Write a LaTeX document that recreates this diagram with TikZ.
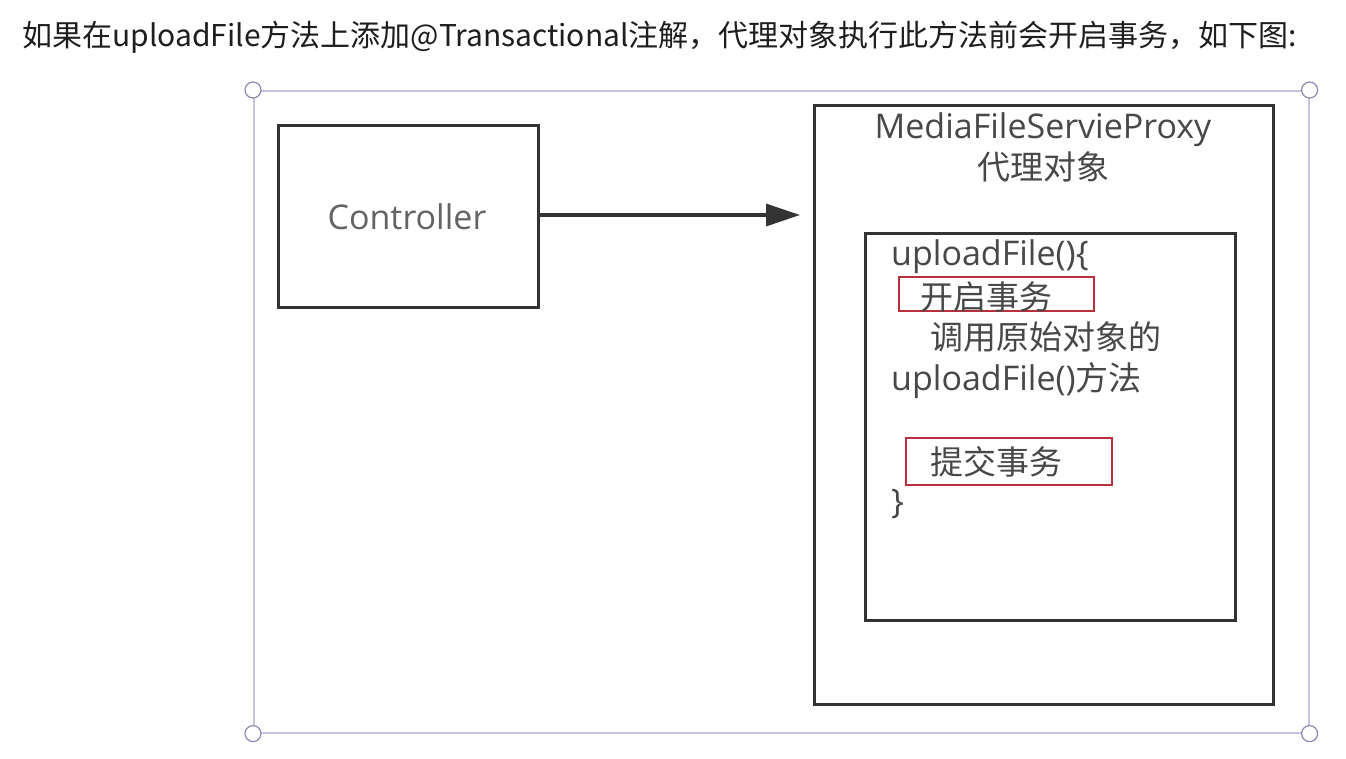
\documentclass[tikz,border=0pt]{standalone}
\usepackage{fontspec}
\setmainfont{Open Sans}
\newfontfamily\cjk{Noto Sans CJK SC}
\usetikzlibrary{arrows.meta}
\definecolor{boxline}{HTML}{333333}
\definecolor{txt}{HTML}{484848}
\definecolor{toptxt}{HTML}{1E1E1E}
\definecolor{sel}{HTML}{C4C4E2}
\definecolor{handle}{HTML}{8A8AAE}
\definecolor{redline}{HTML}{B8303C}
\newcommand\diagfont{\fontsize{34}{40}\selectfont}
\newcommand\cjkdiag{\cjk\fontsize{33}{40}\selectfont}
\tikzset{
  blackbox/.style={draw=boxline, line width=3.2pt, rectangle, inner sep=0pt, anchor=north west},
  redbox/.style={draw=redline, line width=2.2pt, rectangle, inner sep=0pt, anchor=north west},
  selframe/.style={draw=sel, line width=1.6pt, rectangle, inner sep=0pt, anchor=north west},
  handlept/.style={draw=handle, fill=white, circle, line width=1.2pt, minimum size=16pt, inner sep=0pt},
  label/.style={anchor=base west, inner sep=0pt, text=txt, font=\diagfont},
  clabel/.style={anchor=base, inner sep=0pt, text=txt, font=\diagfont},
  flow/.style={draw=boxline, line width=3.2pt, -{Triangle[length=34pt,width=22pt]}}
}
\begin{document}
\begin{tikzpicture}[x=1pt,y=-1pt]
\useasboundingbox[fill=white] (0,0) rectangle (1346,758);
% heading
\node[anchor=base west, inner sep=0pt, text=toptxt, font=\cjk\fontsize{30}{36}\selectfont] (heading) at (22,46)
  {如果在uploadFile方法上添加@Transactional注解，代理对象执行此方法前会开启事务，如下图:};
% selection frame
\node[selframe, minimum width=1055pt, minimum height=642pt] (frame) at (253,90) {};
\node[handlept] (h1) at (frame.north west) {};
\node[handlept] (h2) at (frame.north east) {};
\node[handlept] (h3) at (frame.south west) {};
\node[handlept] (h4) at (frame.south east) {};
% controller
\node[blackbox, minimum width=260pt, minimum height=182pt] (ctrl) at (277,124) {};
\node[clabel, text=txt!85!white] (ctrltext) at (407,229) {Controller};
% proxy
\node[blackbox, minimum width=459pt, minimum height=599pt] (proxy) at (813,104) {};
\node[clabel] (proxytitle) at (1043,138) {MediaFileServieProxy};
\node[clabel, font=\cjkdiag] (proxysub) at (1043,179) {代理对象};
% inner method box
\node[blackbox, minimum width=370pt, minimum height=387pt] (inner) at (864,232) {};
\node[label] (l1) at (891,265) {uploadFile()\{};
\node[redbox, minimum width=195pt, minimum height=34pt] (red1) at (898,276) {};
\node[label, font=\cjkdiag] (l2) at (920,309) {开启事务};
\node[label, font=\cjkdiag] (l3) at (930,349) {调用原始对象的};
\node[label] (l4) at (891,390) {uploadFile(){\cjkdiag 方法}};
\node[redbox, minimum width=206pt, minimum height=47pt] (red2) at (905,437) {};
\node[label, font=\cjkdiag] (l5) at (930,474) {提交事务};
\node[label] (l6) at (891,513) {\}};
% arrow
\coordinate (arrowend) at (800,215);
\draw[flow] (ctrl.east |- arrowend) -- (arrowend);
\end{tikzpicture}
\end{document}
